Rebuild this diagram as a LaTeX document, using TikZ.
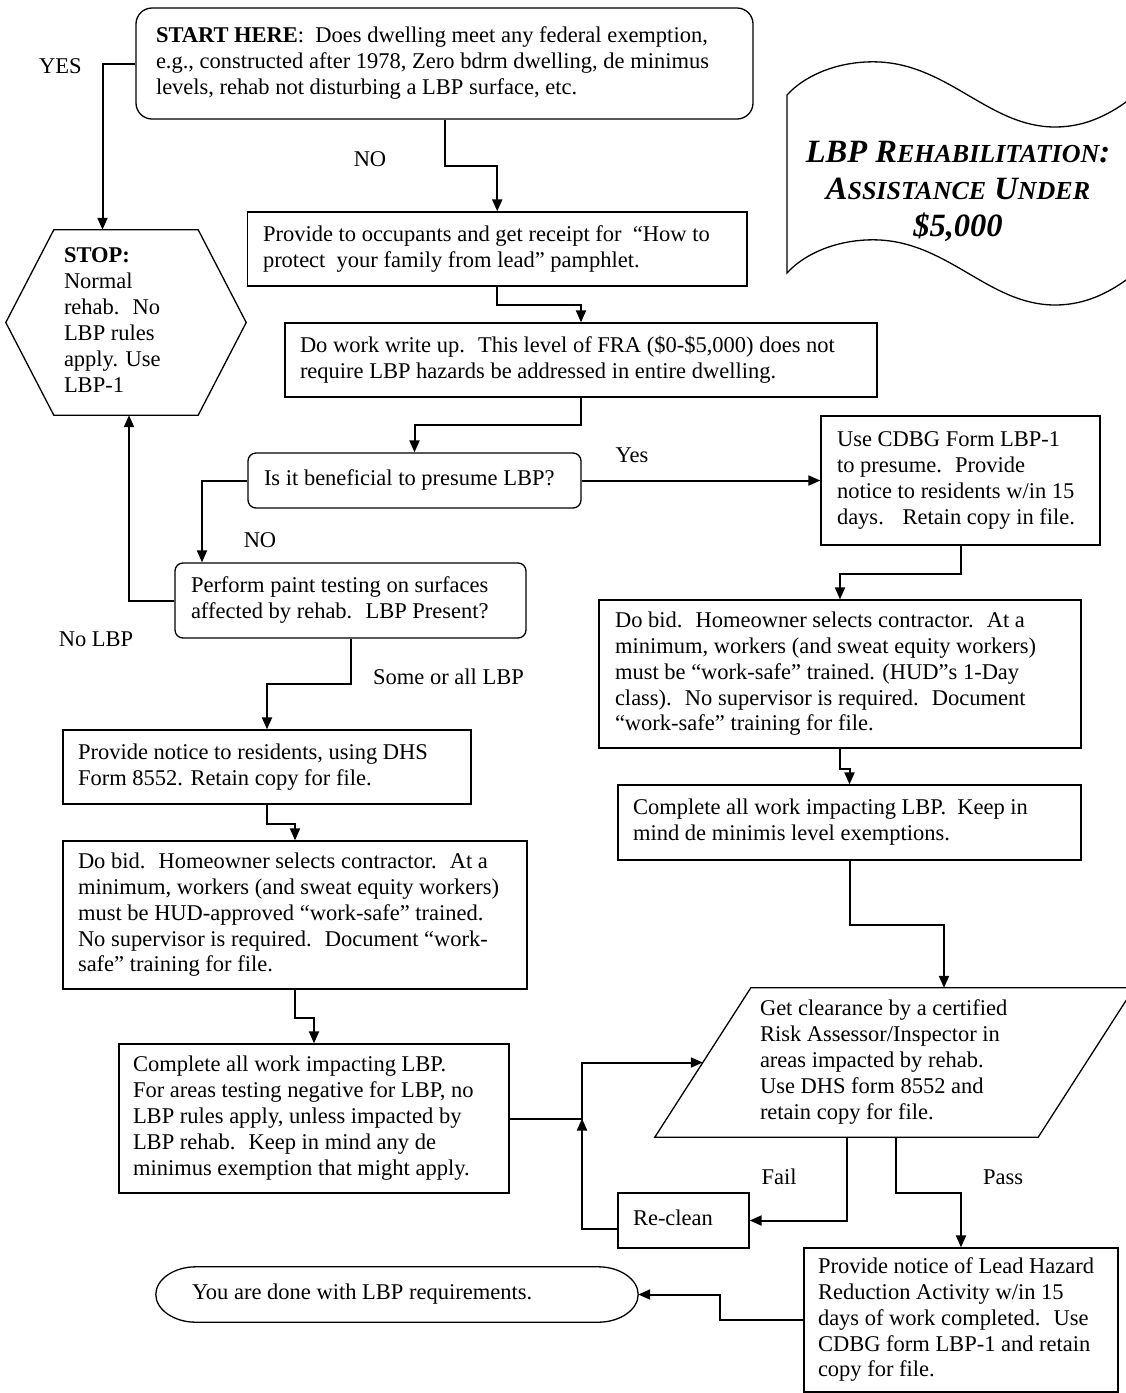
\documentclass[tikz,border=0pt]{standalone}
\usepackage{fontspec}
\setmainfont{Liberation Serif}
\usetikzlibrary{arrows.meta}
\newcommand\bx[2]{\makebox[#1][l]{\begin{tabular}{@{}l@{}}#2\end{tabular}}}
\begin{document}
\begin{tikzpicture}[x=1pt,y=-1pt,
  txt/.style={font=\fontsize{22.5}{25.9}\selectfont},
  box/.style={txt,draw,line width=1.3pt,inner sep=0pt},
  rbox/.style={box,rounded corners=8pt},
  shapebox/.style={txt,inner sep=0pt},
  lbl/.style={txt,inner sep=0pt},
  conn/.style={line width=2pt,-{Triangle[length=12pt,width=10pt]}},
  outline/.style={line width=1.3pt},
  titlefont/.style={inner sep=0pt,font=\fontsize{32.5}{37}\selectfont\bfseries\itshape}]
\useasboundingbox[fill=white] (0,0) rectangle (1126,1393);

% ---------- boxes ----------
\node[box,rounded corners=16pt,minimum width=617pt,minimum height=111pt] (start) at (444.5,63.5)
  {\bx{577pt}{\textbf{START HERE}:~ Does dwelling meet any federal exemption,\\
   e.g., constructed after 1978, Zero bdrm dwelling, de minimus\\
   levels, rehab not disturbing a LBP surface, etc.}};

\node[box,minimum width=499.5pt,minimum height=74pt] (occ) at (497.25,249)
  {\bx{468.5pt}{Provide to occupants and get receipt for~ “How to\\
   protect~ your family from lead” pamphlet.}};

\node[box,minimum width=592pt,minimum height=74pt] (write) at (581,360)
  {\bx{562pt}{Do work write up.~ This level of FRA (\$0-\$5,000) does not\\
   require LBP hazards be addressed in entire dwelling.}};

\node[rbox,minimum width=333pt,minimum height=55pt] (isit) at (414.5,480.5)
  {\bx{301pt}{Is it beneficial to presume LBP?}};

\node[box,minimum width=279pt,minimum height=129pt] (cdbg) at (960.5,480.5)
  {\bx{247pt}{Use CDBG Form LBP-1\\
   to presume.~ Provide\\
   notice to residents w/in 15\\
   days.~~ Retain copy in file.}};

\node[rbox,minimum width=351pt,minimum height=75pt] (perform) at (350.5,600.5)
  {\bx{319pt}{Perform paint testing on surfaces\\
   affected by rehab.~ LBP Present?}};

\node[box,minimum width=482pt,minimum height=148pt] (bidR) at (840,674)
  {\bx{450pt}{Do bid.~ Homeowner selects contractor.~ At a\\
   minimum, workers (and sweat equity workers)\\
   must be “work-safe” trained. (HUD”s 1-Day\\
   class).~ No supervisor is required.~ Document\\
   “work-safe” training for file.}};

\node[box,minimum width=463pt,minimum height=75pt] (compR) at (849.5,822.5)
  {\bx{433pt}{Complete all work impacting LBP.~ Keep in\\
   mind de minimis level exemptions.}};

\node[box,minimum width=408pt,minimum height=74pt] (dhs) at (267,767)
  {\bx{378pt}{Provide notice to residents, using DHS\\
   Form 8552. Retain copy for file.}};

\node[box,minimum width=464pt,minimum height=148pt] (bidL) at (295,915)
  {\bx{434pt}{Do bid.~ Homeowner selects contractor.~ At a\\
   minimum, workers (and sweat equity workers)\\
   must be HUD-approved “work-safe” trained.\\
   No supervisor is required.~ Document “work-\\
   safe” training for file.}};

\node[box,minimum width=390pt,minimum height=149pt] (compL) at (314,1118.5)
  {\bx{362pt}{Complete all work impacting LBP.\\
   For areas testing negative for LBP, no\\
   LBP rules apply, unless impacted by\\
   LBP rehab.~ Keep in mind any de\\
   minimus exemption that might apply.}};

\node[box,minimum width=131pt,minimum height=55pt] (reclean) at (683.5,1220.5)
  {\bx{101pt}{Re-clean}};

\node[box,minimum width=314pt,minimum height=144pt] (final) at (961,1320)
  {\bx{286pt}{Provide notice of Lead Hazard\\
   Reduction Activity w/in 15\\
   days of work completed.~ Use\\
   CDBG form LBP-1 and retain\\
   copy for file.}};

% ---------- hexagon (STOP) ----------
\node[shapebox,minimum width=240pt,minimum height=185pt] (stop) at (126,322.5)
  {\bx{124pt}{\textbf{STOP:}\\ Normal\\ rehab.~ No\\ LBP rules\\ apply. Use\\ LBP-1}};
\draw[outline] ([xshift=48pt]stop.north west) -- ([xshift=-48pt]stop.north east) -- (stop.east)
  -- ([xshift=-48pt]stop.south east) -- ([xshift=48pt]stop.south west) -- (stop.west) -- cycle;

% ---------- parallelogram (clearance) ----------
\node[shapebox,minimum width=383pt,minimum height=149pt] (clear) at (894.5,1062.5)
  {\bx{269pt}{Get clearance by a certified\\
   Risk Assessor/Inspector in\\
   areas impacted by rehab.\\
   Use DHS form 8552 and\\
   retain copy for file.}};
\draw[outline] ([xshift=48pt]clear.north west) -- ([xshift=48pt]clear.north east)
  -- ([xshift=-48pt]clear.south east) -- ([xshift=-48pt]clear.south west) -- cycle;

% ---------- terminal oval ----------
\node[shapebox,minimum width=482pt,minimum height=55pt] (done) at (397,1294.5)
  {\bx{410pt}{You are done with LBP requirements.}};
\draw[outline] ([xshift=40pt]done.north west) -- ([xshift=-40pt]done.north east)
  .. controls ([xshift=-18pt]done.north east) and ([yshift=15pt]done.east) .. (done.east)
  .. controls ([yshift=-15pt]done.east) and ([xshift=-18pt]done.south east) .. ([xshift=-40pt]done.south east)
  -- ([xshift=40pt]done.south west)
  .. controls ([xshift=18pt]done.south west) and ([yshift=-15pt]done.west) .. (done.west)
  .. controls ([yshift=15pt]done.west) and ([xshift=18pt]done.north west) .. ([xshift=40pt]done.north west)
  -- cycle;

% ---------- banner ----------
\draw[outline] (787,95) .. controls (805,75) and (840,60) .. (880,62)
  .. controls (950,66) and (990,127) .. (1055,127)
  .. controls (1085,127) and (1110,115) .. (1134,96)
  -- (1134,274)
  .. controls (1110,293) and (1085,305) .. (1055,305)
  .. controls (990,305) and (950,244) .. (880,240)
  .. controls (840,238) and (805,253) .. (787,273) -- cycle;
\node[titlefont] (title) at (958,191.6)
  {\begin{tabular}{@{}c@{}}LBP R{\fontsize{26}{37}\selectfont EHABILITATION}:\\
   A{\fontsize{26}{37}\selectfont SSISTANCE} U{\fontsize{26}{37}\selectfont NDER}\\
   \$5,000\end{tabular}};

% ---------- labels ----------
\node[lbl] (lyes) at (60.5,65.7) {YES};
\node[lbl] (lno) at (370,159) {NO};
\node[lbl] (lyes2) at (632,455) {Yes};
\node[lbl] (lno2) at (260,540) {NO};
\node[lbl] (lnolbp) at (96,639) {No LBP};
\node[lbl,anchor=west] (lsome) at (373,677) {Some or all LBP};
\node[lbl] (lfail) at (779,1177) {Fail};
\node[lbl] (lpass) at (1003,1177) {Pass};

% ---------- helper coordinates ----------
\coordinate (ctop) at ([xshift=49.5pt]clear.north);
\coordinate (cfail) at ([xshift=-47.5pt]clear.south);
\coordinate (cpass) at ([xshift=1.5pt]clear.south);
\coordinate (j) at (582,1118.5);

% ---------- connectors ----------
\draw[conn] (start.west) -| ([xshift=-23.5pt]stop.north);
\draw[conn] (start.south) -- ++(0,46) -| (occ.north);
\draw[conn] (occ.south) -- ++(0,18) -| (write.north);
\draw[conn] (write.south) -- ++(0,27) -| (isit.north);
\draw[conn] (isit.east) -- (cdbg.west);
\draw[conn] (isit.west) -| ([xshift=-148.5pt]perform.north);
\draw[conn] (perform.west) -| ([xshift=3pt]stop.south);
\draw[conn] (perform.south) -- ++(0,45) -| (dhs.north);
\draw[conn] (dhs.south) -- ++(0,19) -| (bidL.north);
\draw[conn] (bidL.south) -- ++(0,28) -| (compL.north);
\draw[conn] (cdbg.south) -- ++(0,28) -| (bidR.north);
\draw[conn] (bidR.south) -- ++(0,20) -| (compR.north);
\draw[conn] (compR.south) -- ++(0,64) -| (ctop);
\draw[conn] (compL.east) -- (j) |- (clear.west);
\draw[conn] ([yshift=-8.5pt]reclean.west) -| (j);
\draw[conn] (cfail) |- (reclean.east);
\draw[conn] (cpass) -- ++(0,56) -| (final.north);
\draw[conn] (final.west) -- ++(-83,0) |- (done.east);
\end{tikzpicture}
\end{document}
